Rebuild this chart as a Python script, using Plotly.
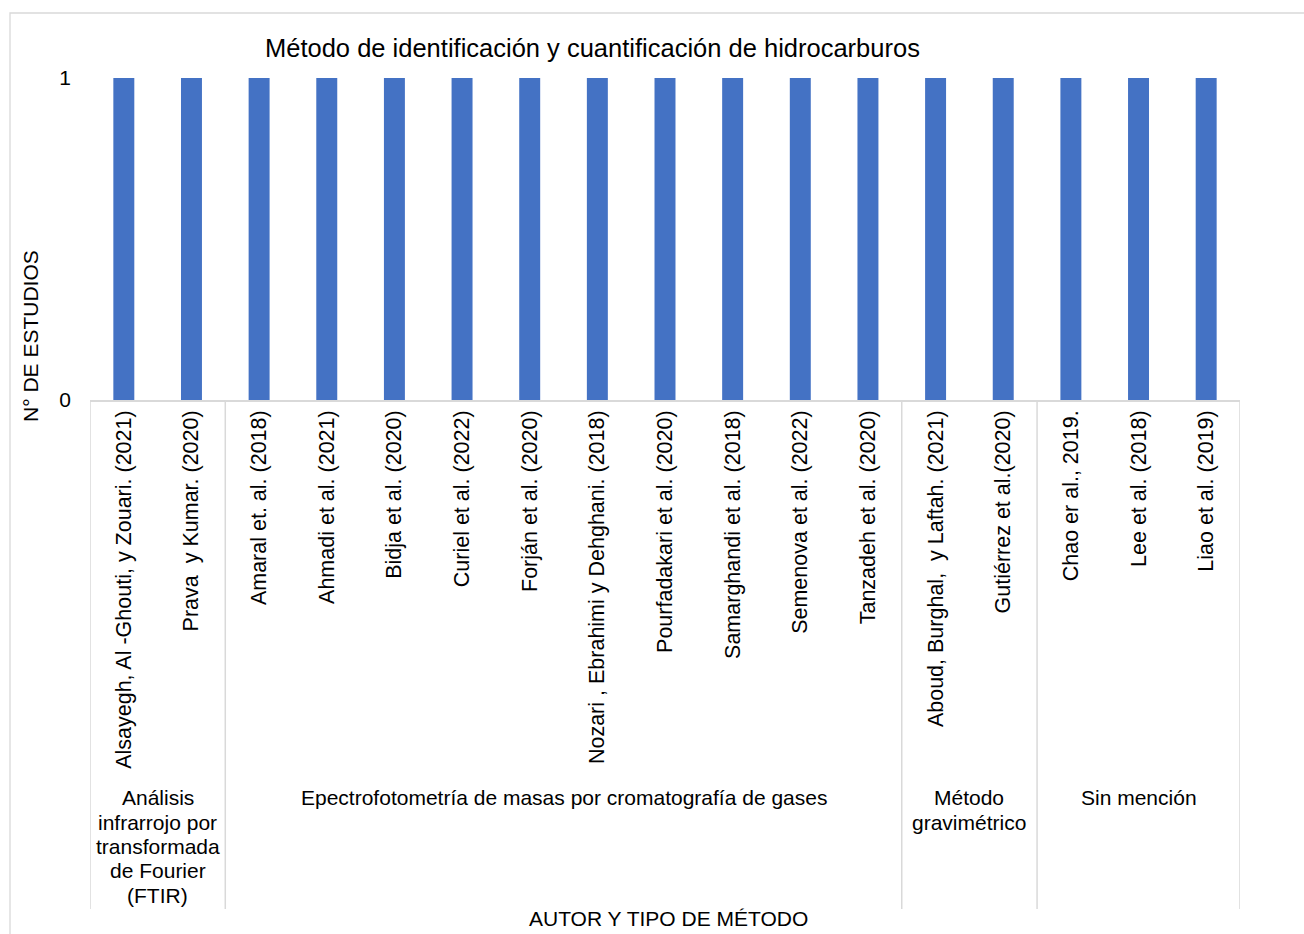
import plotly.graph_objects as go

# ---- data ----
authors = [
    "Alsayegh, Al -Ghouti, y Zouari. (2021)",
    "Prava  y Kumar. (2020)",
    "Amaral et. al. (2018)",
    "Ahmadi et al. (2021)",
    "Bidja et al. (2020)",
    "Curiel et al. (2022)",
    "Forján et al. (2020)",
    "Nozari , Ebrahimi y Dehghani. (2018)",
    "Pourfadakari et al. (2020)",
    "Samarghandi et al. (2018)",
    "Semenova et al. (2022)",
    "Tanzadeh et al. (2020)",
    "Aboud, Burghal,  y Laftah. (2021)",
    "Gutiérrez et al.(2020)",
    "Chao er al., 2019.",
    "Lee et al. (2018)",
    "Liao et al. (2019)",
]
studies = [1, 1, 1, 1, 1, 1, 1, 1, 1, 1, 1, 1, 1, 1, 1, 1, 1]

group_names = [
    ["Análisis", "infrarrojo por", "transformada", "de Fourier", "(FTIR)"],
    ["Epectrofotometría de masas por cromatografía de gases"],
    ["Método", "gravimétrico"],
    ["Sin mención"],
]
group_sizes = [2, 10, 2, 3]

title_text = "Método de identificación y cuantificación de hidrocarburos"
x_title = "AUTOR Y TIPO DE MÉTODO"
y_title = "N° DE ESTUDIOS"

# ---- layout constants (pixels) ----
W, H = 1304, 934
L, R, T, B = 90, 64, 78, 534
PW = W - L - R
PH = H - T - B
FONT = "Arial, Liberation Sans, sans-serif"
GRID = "#d9d9d9"


def px_x(p):
    return (p - L) / PW


def px_y(p):
    return (H - B - p) / PH


fig = go.Figure(
    go.Bar(
        x=authors,
        y=studies,
        marker=dict(color="#4472C4", line=dict(width=0)),
        hoverinfo="x+y",
    )
)

shapes = []
annotations = []

# outer chart border
shapes.append(dict(
    type="rect", xref="paper", yref="paper",
    x0=px_x(10), x1=px_x(1330), y0=px_y(13), y1=px_y(960),
    line=dict(color=GRID, width=1.3), fillcolor="rgba(0,0,0,0)", layer="below",
))

# group dividers & labels
bottom_div = px_y(909)
start = 0
boundaries = [-0.5]
for name_lines, size in zip(group_names, group_sizes):
    end = start + size - 1
    boundaries.append(end + 0.5)
    center = (start + end) / 2
    for i, line in enumerate(name_lines):
        annotations.append(dict(
            x=center, xref="x", y=px_y(798 + 24.3 * i), yref="paper",
            text=line, showarrow=False, xanchor="center", yanchor="middle",
            font=dict(family=FONT, size=21, color="#000000"),
        ))
    start += size

for b in boundaries:
    shapes.append(dict(
        type="line", xref="x", yref="paper",
        x0=b, x1=b, y0=0, y1=bottom_div,
        line=dict(color=GRID, width=1.5),
    ))

# title
annotations.append(dict(
    x=px_x(592), y=px_y(48), xref="paper", yref="paper",
    text=title_text, showarrow=False, xanchor="center", yanchor="middle",
    font=dict(family=FONT, size=25.5, color="#000000"),
))
# axis titles
annotations.append(dict(
    x=px_x(668), y=px_y(918), xref="paper", yref="paper",
    text=x_title, showarrow=False, xanchor="center", yanchor="middle",
    font=dict(family=FONT, size=21, color="#000000"),
))
annotations.append(dict(
    x=px_x(30), y=px_y(336), xref="paper", yref="paper",
    text=y_title, showarrow=False, xanchor="center", yanchor="middle",
    textangle=-90,
    font=dict(family=FONT, size=21, color="#000000"),
))

fig.update_layout(
    width=W, height=H,
    margin=dict(l=L, r=R, t=T, b=B, autoexpand=False),
    paper_bgcolor="white", plot_bgcolor="white",
    bargap=0.69,
    showlegend=False,
    font=dict(family=FONT, size=21, color="#000000"),
    shapes=shapes,
    annotations=annotations,
    xaxis=dict(
        type="category", tickangle=-90, showline=True, linecolor=GRID,
        linewidth=1.5, showgrid=False, ticks="", ticklabelstandoff=0,
        tickfont=dict(family=FONT, size=21.5, color="#000000"),
        range=[-0.5, len(authors) - 0.5], fixedrange=True,
    ),
    yaxis=dict(
        range=[0, 1], tickvals=[0, 1], ticktext=["0", "1"],
        showgrid=True, gridcolor=GRID, gridwidth=1.5, zeroline=False,
        showline=False, ticks="", ticklabelstandoff=18,
        tickfont=dict(family=FONT, size=21, color="#000000"),
        fixedrange=True,
    ),
)

fig.write_html("out.html")
